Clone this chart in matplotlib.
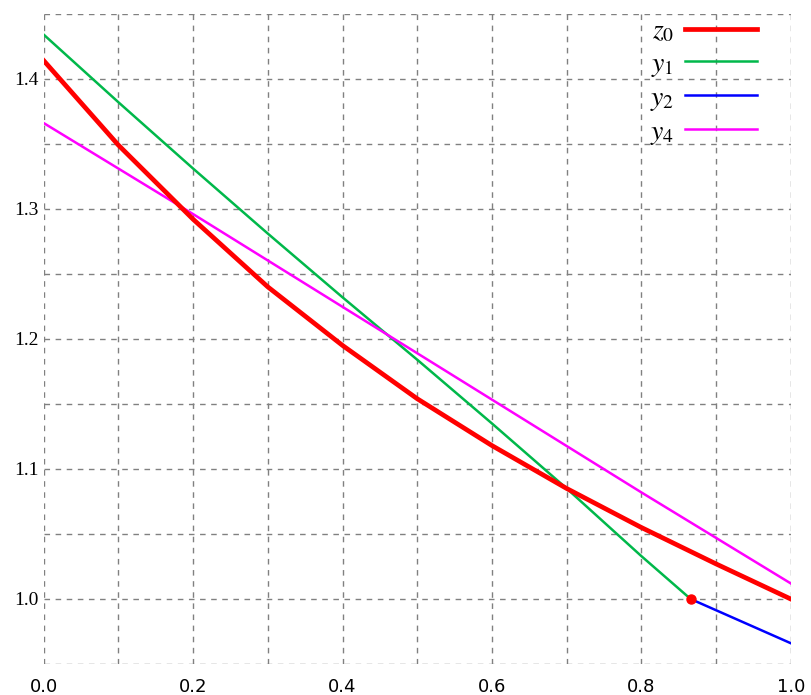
import matplotlib.pyplot as plt
from matplotlib.ticker import MultipleLocator

# values
x_z0 = [0.0, 0.1, 0.2, 0.3, 0.4, 0.5, 0.6, 0.7, 0.8, 0.9, 1.0]
z0 = [1.414, 1.349, 1.292, 1.240, 1.195, 1.154, 1.118, 1.085, 1.055, 1.027, 1.0]

x_y1 = [0.0, 0.1, 0.2, 0.3, 0.4, 0.5, 0.6, 0.7, 0.8, 0.866]
y1 = [1.434, 1.382, 1.331, 1.281, 1.232, 1.184, 1.135, 1.085, 1.033, 1.0]

x_y2 = [0.866, 1.0]
y2 = [1.0, 0.966]

x_y4 = [0.0, 0.2, 0.5, 0.8, 1.0]
y4 = [1.366, 1.296, 1.189, 1.082, 1.012]

dot_x, dot_y = 0.866, 1.0

plt.rcParams['mathtext.fontset'] = 'stix'

fig = plt.figure(figsize=(8.11, 6.95), dpi=100)
ax = fig.add_axes([0.054, 0.0446, 0.921, 0.9354])

ax.plot(x_z0, z0, color='#ff0000', lw=3.4, label='$z_0$', zorder=4)
ax.plot(x_y1, y1, color='#00b84a', lw=1.8, label='$y_1$', zorder=3)
ax.plot(x_y2, y2, color='#0000ff', lw=1.8, label='$y_2$', zorder=3)
ax.plot(x_y4, y4, color='#ff00ff', lw=1.8, label='$y_4$', zorder=3)
ax.plot([dot_x], [dot_y], 'o', color='#ff0000', ms=6.5, zorder=5)

ax.set_xlim(0, 1)
ax.set_ylim(0.95, 1.45)
ax.xaxis.set_major_locator(MultipleLocator(0.2))
ax.xaxis.set_minor_locator(MultipleLocator(0.1))
ax.yaxis.set_major_locator(MultipleLocator(0.1))
ax.yaxis.set_minor_locator(MultipleLocator(0.05))
ax.grid(True, which='both', color='#808080', ls=(0, (4, 4)), lw=1.0)
ax.set_axisbelow(True)
ax.tick_params(which='both', length=0)
ax.tick_params(axis='x', labelsize=13, pad=10)
ax.tick_params(axis='y', labelsize=14, pad=4)
for lab in ax.get_yticklabels():
    lab.set_family('Liberation Serif')
for s in ax.spines.values():
    s.set_visible(False)

leg = ax.legend(loc='upper right', bbox_to_anchor=(0.97, 1.013), frameon=False,
                markerfirst=False, fontsize=20, handlelength=2.6,
                labelspacing=0.15, borderaxespad=0.0, handletextpad=0.4)

fig.savefig('out.png', dpi=100)
